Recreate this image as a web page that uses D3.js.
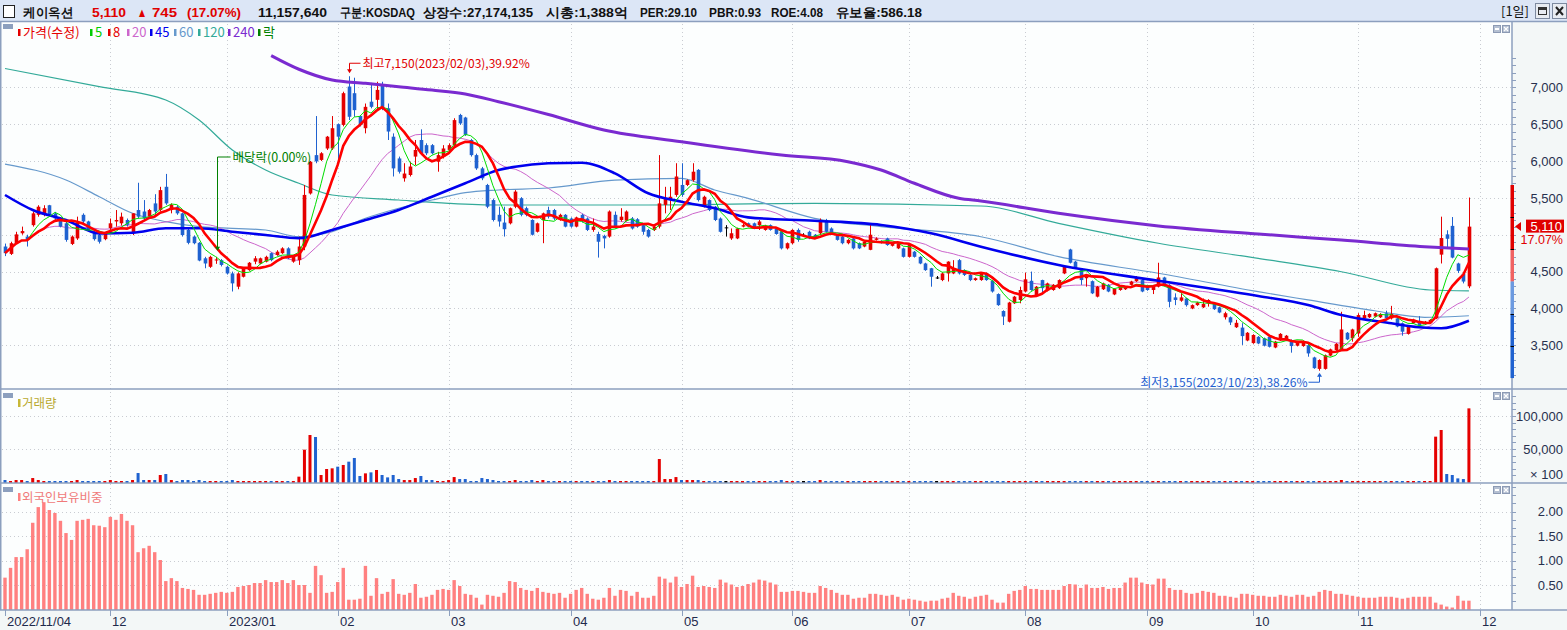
<!DOCTYPE html>
<html><head><meta charset="utf-8">
<script src="https://cdn.jsdelivr.net/npm/d3@7"></script>
<style>
html,body{margin:0;padding:0;background:#fff;overflow:hidden;}
svg{display:block;}
text{font-family:"Liberation Sans",Arial,sans-serif;}
.kr{font-family:"Noto Sans CJK KR","Noto Sans",sans-serif;}
</style></head><body>
<svg id="chart" width="1567" height="630"></svg>
<script>
// ---------------- DATA ----------------
const stockName = "케이옥션";
const headerFields = ["구분:KOSDAQ","상장수:27,174,135","시총:1,388억","PER:29.10","PBR:0.93","ROE:4.08","유보율:586.18"];
const lastVolumeShares = 11157640;
const holidays = ["2022-12-30","2023-01-23","2023-01-24","2023-03-01","2023-05-01","2023-05-05","2023-05-29","2023-06-06","2023-08-15","2023-09-28","2023-09-29","2023-10-02","2023-10-03","2023-10-09"];
const startDate = "2022-11-04", axisEndDate = "2023-12-01";
const dividendIndexDate = "2022-12-28";

// [open, high, low, close] per trading day
const ohlc = [
[4840,4880,4710,4750],[4740,4905,4725,4885],[4885,5040,4875,5005],[5020,5110,5000,5050],[4975,5000,4840,4930],
[5130,5315,5110,5290],[5270,5400,5245,5380],[5270,5400,5250,5360],[5400,5405,5245,5270],[5290,5310,5180,5220],
[5200,5220,5100,5110],[5155,5180,4905,4930],[4875,4990,4860,4975],[4950,5245,4930,5165],[5270,5290,5155,5180],
[5180,5190,5050,5065],[5040,5060,4920,4940],[5000,5010,4880,4905],[4940,5030,4925,5020],[5090,5220,5065,5155],
[5180,5335,5110,5200],[5155,5300,5125,5245],[5200,5220,5110,5135],[5020,5290,4995,5290],[5335,5705,5220,5245],
[5315,5470,5200,5220],[5245,5350,5230,5335],[5425,5550,5245,5315],[5335,5650,5315,5605],[5650,5825,5405,5425],
[5335,5425,5290,5405],[5380,5400,5270,5290],[5290,5300,4975,4995],[5065,5080,4870,4890],[4975,4990,4870,4885],
[4890,4900,4640,4650],[4680,4700,4545,4610],[4565,4715,4550,4700],[4650,4700,4605,4665],[4655,4670,4570,4590],
[4565,4580,4460,4475],[4475,4500,4230,4340],[4295,4490,4260,4475],[4430,4560,4420,4545],[4520,4630,4510,4620],
[4635,4710,4600,4680],[4610,4690,4600,4680],[4635,4715,4625,4700],[4750,4760,4640,4655],[4725,4790,4715,4770],
[4750,4830,4740,4815],[4815,4830,4670,4680],[4635,4710,4620,4700],[4655,4975,4590,4840],[4840,5675,4790,5540],
[5560,6000,5545,5990],[6080,6610,5970,5995],[6015,6120,6000,6105],[6170,6340,6150,6330],[6170,6610,6150,6445],
[6500,6510,5990,6330],[6490,6940,6470,6920],[7010,7150,6555,6600],[6920,7130,6600,6690],[6610,6620,6470,6490],
[6445,6780,6375,6735],[6805,7060,6715,6735],[6830,7075,6690,6965],[7030,7075,6690,6715],[6715,6780,6285,6400],
[6330,6375,5790,5900],[6035,6060,5830,5855],[5765,5970,5720,5830],[5810,5990,5790,5925],[6060,6285,5945,6150],
[6285,6430,6080,6105],[6215,6240,6080,6105],[6215,6230,6090,6105],[5990,6125,5855,6080],[6060,6215,6035,6170],
[6150,6240,6125,6215],[6215,6580,6200,6555],[6625,6640,6490,6510],[6590,6600,6340,6355],[6285,6300,6060,6080],
[6080,6100,5880,5900],[5900,5920,5740,5765],[5675,5690,5360,5380],[5470,5490,5180,5200],[5270,5380,5110,5180],
[5165,5380,4975,5075],[5155,5370,5140,5360],[5380,5605,5360,5585],[5495,5510,5250,5270],[5360,5380,5250,5270],
[5200,5210,4990,5000],[5040,5165,5030,5155],[5200,5300,4885,5290],[5335,5380,5220,5245],[5335,5350,5200,5220],
[5200,5285,5190,5270],[5270,5280,5100,5110],[5220,5235,5095,5110],[5110,5245,5100,5235],[5270,5285,5165,5180],
[5220,5235,5050,5065],[5065,5220,5040,5110],[5010,5040,4690,4905],[4985,5000,4815,4950],[4975,5330,4960,5315],
[5270,5315,5085,5110],[5200,5360,5180,5245],[5190,5330,5180,5315],[5220,5240,5070,5085],[5210,5225,5095,5110],
[5130,5155,5000,5040],[5065,5080,4960,4975],[5065,5120,5050,5110],[5110,6080,5085,5425],[5405,5650,5290,5495],
[5470,5650,5335,5515],[5540,5970,5515,5790],[5675,5970,5515,5540],[5675,5750,5660,5740],[5740,5970,5720,5855],
[5880,5890,5450,5470],[5380,5530,5370,5515],[5470,5480,5320,5335],[5380,5390,5185,5200],[5220,5235,5030,5040],
[5100,5130,4975,5100],[4950,5085,4930,5020],[4950,5095,4940,5085],[5110,5150,5100,5130],[5155,5165,5100,5110],
[5155,5165,5075,5085],[5130,5200,5065,5180],[5065,5135,5055,5125],[5130,5140,5055,5065],[5085,5095,5000,5010],
[5040,5050,4800,4815],[4815,4895,4800,4885],[4885,5075,4870,5065],[5065,5085,4905,4930],[5000,5020,4985,5000],
[5040,5055,4940,4950],[5000,5010,4940,4950],[5020,5220,5000,5180],[5200,5215,5030,5040],[5085,5100,5010,5020],
[5000,5010,4920,4930],[4975,4990,4870,4885],[4885,4940,4870,4930],[4950,4960,4800,4815],[4885,4895,4805,4815],
[4840,4915,4830,4905],[4795,5140,4790,5000],[4930,4965,4920,4950],[4915,4925,4880,4890],[4950,4960,4850,4860],
[4850,4895,4840,4885],[4815,4895,4805,4885],[4815,4825,4690,4700],[4700,4870,4690,4860],[4770,4780,4690,4700],
[4700,4710,4600,4610],[4610,4620,4510,4520],[4545,4550,4295,4430],[4420,4440,4400,4420],[4385,4490,4370,4475],
[4475,4640,4365,4635],[4475,4655,4465,4545],[4655,4670,4460,4475],[4520,4530,4440,4455],[4455,4465,4370,4385],
[4385,4420,4375,4410],[4385,4495,4375,4485],[4475,4485,4375,4385],[4375,4385,4215,4230],[4195,4205,4035,4045],
[3965,3975,3775,3890],[3820,4090,3810,4080],[4070,4170,4060,4160],[4115,4295,4070,4250],[4230,4485,4220,4395],
[4375,4500,4240,4250],[4180,4305,4170,4295],[4385,4390,4205,4275],[4240,4350,4230,4340],[4250,4330,4240,4320],
[4275,4395,4265,4385],[4475,4575,4465,4565],[4800,4810,4610,4620],[4635,4645,4545,4555],[4520,4530,4320,4385],
[4410,4450,4295,4440],[4370,4380,4195,4205],[4160,4305,4150,4295],[4260,4350,4250,4340],[4320,4330,4220,4230],
[4190,4275,4180,4265],[4250,4315,4240,4305],[4260,4305,4250,4295],[4320,4375,4310,4365],[4370,4440,4360,4410],
[4385,4395,4220,4230],[4305,4315,4240,4250],[4250,4305,4195,4295],[4295,4620,4285,4420],[4420,4430,4310,4320],
[4320,4330,4015,4090],[4150,4205,4045,4115],[4105,4205,4090,4150],[4135,4145,4025,4045],[4000,4055,3990,4045],
[4045,4090,4035,4080],[4015,4135,4005,4060],[4070,4125,4025,4115],[4070,4080,3980,3990],[4015,4025,3935,3945],
[3880,3955,3850,3935],[3880,3890,3775,3810],[3745,3845,3735,3805],[3740,3800,3505,3625],[3565,3680,3555,3670],
[3530,3650,3520,3640],[3615,3625,3515,3525],[3595,3605,3485,3495],[3615,3625,3470,3480],[3470,3560,3460,3550],
[3570,3665,3560,3655],[3570,3640,3560,3630],[3570,3580,3400,3490],[3495,3560,3485,3550],[3490,3545,3480,3535],
[3500,3510,3345,3390],[3335,3345,3180,3190],[3180,3310,3155,3300],[3180,3375,3170,3365],[3360,3455,3350,3445],
[3435,3530,3425,3520],[3435,3955,3425,3715],[3670,3680,3570,3580],[3595,3725,3550,3715],[3660,3935,3615,3910],
[3865,3970,3850,3910],[3880,3935,3870,3925],[3890,3945,3880,3935],[3880,3935,3870,3925],[3935,3970,3850,3865],
[3865,4035,3850,3925],[3865,3875,3745,3755],[3800,3810,3630,3685],[3655,3770,3645,3760],[3800,3860,3790,3850],
[3820,3895,3755,3775],[3790,3830,3780,3820],[3800,3855,3790,3845],[3865,4555,3855,4545],[4730,5245,4610,4955],
[5005,5060,4830,4945],[5120,5240,4680,4690],[4610,4620,4480,4510],[4470,4485,4340,4365],[4300,5505,4275,5110]
];

// volume (x100 shares)
const volume = [
3000,1500,3000,3000,1500,6000,3000,1500,1500,1500,
1500,1500,1500,3000,1500,1500,1500,1500,1500,3000,
1500,1500,1500,3000,13600,3000,3000,3000,10600,12100,
3000,1500,3000,3000,1500,3000,1500,1500,1500,1500,
1500,3000,1500,1500,1500,1500,1500,1500,1500,1500,
1500,1500,1500,8100,49000,71200,68200,10600,19700,20700,
23200,25800,30800,36400,9100,13100,14600,18200,10600,7000,
10600,4500,3000,3000,6000,9100,3000,3000,1500,1500,
3000,7500,4500,4500,1500,1500,6000,4500,3000,1500,
1500,1500,3000,1500,1500,3000,1500,3000,1500,1500,
1500,1500,1500,1500,1500,1500,1500,1500,1500,3000,
1500,1500,1500,1500,1500,1500,1500,1500,34800,4500,
4500,7500,3000,3000,3000,3000,1500,1500,1500,1500,
1500,1500,1500,1500,1500,1500,1500,1500,1500,1500,
3000,1500,1500,1500,1500,1500,1500,3000,1500,1500,
1500,1500,1500,1500,1500,1500,1500,1500,1500,1500,
1500,1500,1500,1500,1500,1500,1500,1500,1500,1500,
1500,1500,1500,1500,1500,1500,1500,1500,1500,1500,
1500,1500,1500,1500,1500,1500,1500,1500,1500,1500,
1500,1500,1500,1500,1500,1500,1500,1500,1500,1500,
1500,1500,1500,1500,1500,1500,1500,1500,1500,1500,
1500,1500,1500,1500,1500,1500,1500,1500,1500,1500,
1500,1500,1500,1500,1500,1500,1500,1500,1500,1500,
1500,1500,1500,1500,1500,1500,1500,1500,1500,1500,
1500,3000,1500,1500,1500,1500,1500,1500,1500,1500,
1500,1500,1500,1500,1500,1500,1500,1500,68700,78800,
12100,10600,5500,4500,111576.4
];

// foreign ownership ratio (%)
const foreignRatio = [
.65,.85,1.07,1.07,1.23,1.77,2.09,2.19,2.03,1.97,
1.81,1.56,1.42,1.81,1.83,1.85,1.72,1.71,1.68,1.89,
1.83,1.95,1.81,1.72,1.17,1.25,1.30,1.17,1.01,.58,
.64,.58,.44,.42,.40,.30,.30,.32,.34,.36,
.34,.36,.46,.48,.50,.54,.54,.60,.56,.56,
.60,.54,.60,.50,.50,.34,.89,.70,.34,.36,
.56,.85,.20,.20,.22,.89,.28,.64,.32,.36,
.62,.32,.30,.34,.52,.24,.26,.30,.40,.42,
.40,.60,.48,.32,.30,.24,.10,.30,.28,.26,
.34,.58,.56,.44,.40,.38,.44,.36,.34,.32,
.34,.24,.32,.40,.44,.32,.22,.20,.24,.44,
.28,.40,.38,.28,.36,.24,.24,.28,.67,.63,
.55,.67,.46,.52,.69,.46,.48,.46,.44,.61,
.55,.51,.46,.48,.52,.55,.61,.59,.55,.51,
.36,.36,.38,.38,.36,.34,.34,.48,.44,.40,
.34,.30,.30,.22,.24,.24,.32,.32,.30,.28,
.30,.26,.20,.22,.20,.18,.16,.18,.18,.22,
.24,.34,.28,.26,.22,.26,.28,.30,.20,.14,
.14,.32,.38,.40,.48,.42,.42,.40,.40,.40,
.40,.48,.52,.51,.44,.51,.44,.44,.46,.42,
.44,.44,.55,.65,.65,.55,.52,.51,.63,.63,
.44,.40,.40,.34,.32,.34,.38,.36,.34,.28,
.28,.26,.24,.32,.32,.30,.28,.28,.26,.26,
.30,.28,.26,.30,.30,.26,.28,.36,.40,.38,
.32,.32,.30,.28,.26,.24,.24,.24,.26,.26,
.26,.24,.22,.24,.26,.26,.26,.26,.14,.10,
.06,.04,.28,.18,.18
];

// long moving averages: [trading-day index, value]
const ma45Samples = [[0,5539],[5,5335],[11,5200],[17,5019],[23,5027],[29,5087],[35,5087],[41,5041],[47,4996],[53,4952],[59,5064],[65,5200],[71,5335],[77,5516],[83,5698],[89,5878],[92,5923],[98,5969],[104,5977],[110,5833],[116,5562],[122,5448],[128,5359],[134,5236],[146,5190],[158,5132],[167,5019],[176,4838],[190,4589],[208,4376],[226,4169],[235,4047],[241,3911],[250,3798],[255,3745],[259,3731],[264,3834]];
const ma60Samples = [[0,5959],[11,5742],[17,5516],[23,5291],[29,5177],[35,5109],[47,5064],[53,4973],[59,5041],[65,5223],[71,5359],[77,5471],[83,5570],[89,5607],[98,5634],[110,5742],[122,5765],[128,5607],[134,5494],[146,5223],[158,5109],[176,4973],[190,4702],[208,4477],[226,4227],[235,4115],[247,3969],[256,3880],[264,3901]];
const ma120Samples = [[0,7255],[17,7008],[29,6828],[35,6556],[41,6149],[47,5878],[53,5698],[59,5539],[71,5471],[80,5426],[89,5403],[116,5403],[146,5426],[176,5390],[190,5155],[208,4884],[226,4680],[241,4498],[257,4250],[264,4237]];
const ma240Samples = [[48,7430],[53,7245],[59,7099],[65,7054],[71,7008],[77,6963],[83,6909],[89,6805],[98,6630],[108,6421],[122,6262],[140,6082],[152,5991],[158,5878],[164,5698],[172,5494],[176,5458],[190,5290],[208,5120],[226,5010],[241,4928],[256,4838],[264,4806]];

const priceTicks = [3500,4000,4500,5000,5500,6000,6500,7000];
const volumeTicks = [50000,100000];
const foreignTicks = [0.5,1.0,1.5,2.0];
const legendItems = [
  {label:"가격(수정)", color:"#e50000"},{label:"5", color:"#00cc00"},{label:"8", color:"#e50000"},
  {label:"20", color:"#cc66cc"},{label:"45", color:"#0000ee"},{label:"60", color:"#6699cc"},
  {label:"120", color:"#33aa99"},{label:"240", color:"#7a2ad0"},{label:"락", color:"#008000"}];

// ---------------- HELPERS ----------------
function tradingDays(start, end){
  const out=[]; const d=new Date(start+"T00:00:00Z"); const e=new Date(end+"T00:00:00Z");
  while(d<=e){ const wd=d.getUTCDay(); const s=d.toISOString().slice(0,10);
    if(wd!==0 && wd!==6 && !holidays.includes(s)) out.push(s);
    d.setUTCDate(d.getUTCDate()+1); }
  return out;
}
const dates = tradingDays(startDate, axisEndDate);
const N = ohlc.length;
const opens = ohlc.map(r=>r[0]), highs = ohlc.map(r=>r[1]), lows = ohlc.map(r=>r[2]), closes = ohlc.map(r=>r[3]);
function sma(arr,n){ return arr.map((_,i)=>d3.mean(arr.slice(Math.max(0,i-n+1),i+1))); }
const ma5 = sma(closes,5), ma8 = sma(closes,8), ma20 = sma(closes,20);
const dirColor = i => closes[i]>opens[i] ? "#e50000" : (closes[i]<opens[i] ? "#1f62d0" : "#000000");

// ---------------- LAYOUT ----------------
const W=1567, H=630, PR=1512;
const P = {top:22, bot:389}, V = {top:389, bot:483}, F = {top:483, bot:610};
const x = d3.scaleLinear().domain([0, dates.length-1]).range([5, 1480]);
const y = d3.scaleLinear().domain([3500,7000]).range([345.3, 87.3]);
const yv = d3.scaleLinear().domain([0,100000]).range([482, 416]);
const yf = d3.scaleLinear().domain([0,2]).range([609.5, 511.5]);
const fmt = d3.format(",");

const svg = d3.select("#chart");
const defs = svg.append("defs");
[["clipP",P],["clipV",V],["clipF",F]].forEach(([id,p])=>{
  defs.append("clipPath").attr("id",id).append("rect").attr("x",1).attr("y",p.top+1).attr("width",PR-1).attr("height",p.bot-p.top-1);
});

// backgrounds
svg.append("rect").attr("width",W).attr("height",H).attr("fill","#fcfefe");
svg.append("rect").attr("x",PR).attr("y",22).attr("width",W-PR).attr("height",H-22).attr("fill","#f3f7f7");
svg.append("rect").attr("x",0).attr("y",F.bot).attr("width",W).attr("height",H-F.bot).attr("fill","#f3f7f7");

// month ticks
const monthTicks = [];
dates.forEach((s,i)=>{ if(i===0 || s.slice(0,7)!==dates[i-1].slice(0,7)) monthTicks.push({i, s}); });
const tickLabel = (t,k) => k===0 ? t.s.replace(/-/g,"/") : (t.s.slice(5,7)==="01" ? t.s.slice(0,4)+"/01" : t.s.slice(5,7));

// grid
const grid = svg.append("g").attr("stroke","#c9ccd2").attr("stroke-width",1).attr("stroke-dasharray","1,3");
monthTicks.slice(1).forEach(t=>{
  const gx = Math.round(x(t.i))+0.5;
  grid.append("line").attr("x1",gx).attr("x2",gx).attr("y1",P.top+2).attr("y2",F.bot);
});
priceTicks.forEach(v=>grid.append("line").attr("x1",2).attr("x2",PR).attr("y1",Math.round(y(v))+0.5).attr("y2",Math.round(y(v))+0.5));
volumeTicks.forEach(v=>grid.append("line").attr("x1",2).attr("x2",PR).attr("y1",Math.round(yv(v))+0.5).attr("y2",Math.round(yv(v))+0.5));
foreignTicks.forEach(v=>grid.append("line").attr("x1",2).attr("x2",PR).attr("y1",Math.round(yf(v))+0.5).attr("y2",Math.round(yf(v))+0.5));

// ---------------- PRICE PANEL ----------------
const gp = svg.append("g").attr("clip-path","url(#clipP)");
const lineS = pts => d3.line().x(d=>x(d[0])).y(d=>y(d[1])).curve(d3.curveMonotoneX)(pts);
const lineD = arr => d3.line().x((d,i)=>x(i)).y(d=>y(d))(arr);
gp.append("path").attr("d",lineS(ma120Samples)).attr("fill","none").attr("stroke","#33aa99").attr("stroke-width",1.2);
gp.append("path").attr("d",lineS(ma60Samples)).attr("fill","none").attr("stroke","#6699cc").attr("stroke-width",1.2);
gp.append("path").attr("d",lineD(ma20)).attr("fill","none").attr("stroke","#cc66cc").attr("stroke-width",1);

// candles
const gc = gp.append("g");
for(let i=0;i<N;i++){
  const cx = Math.round(x(i))+0.5, col = dirColor(i);
  gc.append("line").attr("x1",cx).attr("x2",cx).attr("y1",y(highs[i])).attr("y2",y(lows[i])).attr("stroke",col).attr("stroke-width",1);
  const top = y(Math.max(opens[i],closes[i])), bot = y(Math.min(opens[i],closes[i]));
  gc.append("rect").attr("x",cx-1.8).attr("y",top).attr("width",3.6).attr("height",Math.max(1,bot-top)).attr("fill",col);
}
gp.append("path").attr("d",lineS(ma240Samples)).attr("fill","none").attr("stroke","#7a2ad0").attr("stroke-width",3);
gp.append("path").attr("d",lineS(ma45Samples)).attr("fill","none").attr("stroke","#0000ee").attr("stroke-width",2.6);
gp.append("path").attr("d",lineD(ma5)).attr("fill","none").attr("stroke","#00dd00").attr("stroke-width",1);
gp.append("path").attr("d",lineD(ma8)).attr("fill","none").attr("stroke","#ff0000").attr("stroke-width",2.6);

// ---------------- VOLUME PANEL ----------------
const gv = svg.append("g").attr("clip-path","url(#clipV)");
volume.forEach((v,i)=>{
  const top = Math.min(yv(v), 481);
  gv.append("rect").attr("x",x(i)-1.5).attr("y",top).attr("width",3).attr("height",483-top).attr("fill",dirColor(i));
});

// ---------------- FOREIGN PANEL ----------------
const gf = svg.append("g").attr("clip-path","url(#clipF)");
foreignRatio.forEach((v,i)=>{
  gf.append("rect").attr("x",x(i)-1.7).attr("y",yf(v)).attr("width",3.4).attr("height",610-yf(v)).attr("fill","#ff8080");
});

// ---------------- FRAME ----------------
const frame = svg.append("g").attr("stroke","#8c9fbe").attr("stroke-width",1.5).attr("fill","none");
frame.append("line").attr("x1",0.75).attr("x2",0.75).attr("y1",22).attr("y2",F.bot);
frame.append("line").attr("x1",PR).attr("x2",PR).attr("y1",22).attr("y2",F.bot);
[V.top, F.top, F.bot].forEach(yy=>frame.append("line").attr("x1",0).attr("x2",W).attr("y1",yy).attr("y2",yy));

// right axis ticks & labels
const axG = svg.append("g");
for(let v=3100; v<=7400; v+=100){ const yy=Math.round(y(v))+0.5; if(yy>P.top+4 && yy<P.bot-2) axG.append("line").attr("x1",PR).attr("x2",PR+4).attr("y1",yy).attr("y2",yy).attr("stroke","#8c9fbe"); }
for(let v=0; v<=130000; v+=10000){ const yy=Math.round(yv(v))+0.5; if(yy>V.top+3 && yy<V.bot-1) axG.append("line").attr("x1",PR).attr("x2",PR+4).attr("y1",yy).attr("y2",yy).attr("stroke","#8c9fbe"); }
for(let v=1/6; v<=2.5; v+=1/6){ const yy=Math.round(yf(v))+0.5; if(yy>F.top+3 && yy<F.bot-1) axG.append("line").attr("x1",PR).attr("x2",PR+4).attr("y1",yy).attr("y2",yy).attr("stroke","#8c9fbe"); }
const lab = (txt,yy,col)=>axG.append("text").attr("x",1563).attr("y",yy).attr("dy","0.36em").attr("text-anchor","end").attr("font-size",13).attr("fill",col||"#27304e").text(txt);
priceTicks.forEach(v=>{ if(v!==5000) lab(fmt(v), y(v)); });
volumeTicks.forEach(v=>lab(fmt(v), yv(v)));
lab("× 100", 474);
foreignTicks.forEach(v=>lab(v.toFixed(2), yf(v)));

// price-limit bar on the axis
const prevClose = closes[N-2], lastClose = closes[N-1];
const limBands = [[1.3,1.1,"#e00000"],[1.1,1.0,"#f06262"],[1.0,0.9,"#6b9ae0"],[0.9,0.7,"#1f62d0"]];
limBands.forEach(([a,b,c])=>svg.append("rect").attr("x",PR-1.5).attr("y",y(prevClose*a)).attr("width",3.5).attr("height",y(prevClose*b)-y(prevClose*a)).attr("fill",c));
[1.2,1.1,0.9,0.8].forEach(k=>svg.append("rect").attr("x",PR-1.5).attr("y",Math.round(y(prevClose*k))).attr("width",3.5).attr("height",1).attr("fill","#000"));

// current price marker
const cy = y(lastClose);
svg.append("path").attr("d",`M${PR+3},${cy} L${PR+9},${cy-4.5} L${PR+9},${cy+4.5} Z`).attr("fill","#e00000");
svg.append("rect").attr("x",1526).attr("y",cy-7).attr("width",38).attr("height",13).attr("fill","#e00000");
svg.append("text").attr("x",1562).attr("y",cy).attr("dy","0.36em").attr("text-anchor","end").attr("font-size",13).attr("fill","#fff").text(fmt(lastClose));
const pct = (lastClose-prevClose)/prevClose*100;
svg.append("text").attr("x",1563).attr("y",cy+13).attr("dy","0.36em").attr("text-anchor","end").attr("font-size",12.5).attr("fill","#e00000").text(pct.toFixed(2)+"%");

// x axis
monthTicks.forEach((t,k)=>{
  const tx = Math.round(x(t.i))+0.5;
  svg.append("line").attr("x1",tx).attr("x2",tx).attr("y1",F.bot).attr("y2",F.bot+6).attr("stroke","#8c9fbe");
  svg.append("text").attr("x",tx+1.5).attr("y",626).attr("font-size",13).attr("fill","#1f2a4c").text(tickLabel(t,k));
});

// panel icons
[P.top+3, V.top+3, F.top+3].forEach(yy=>{
  [1493,1502].forEach((ix,j)=>{
    svg.append("rect").attr("x",ix+0.5).attr("y",yy+0.5).attr("width",7).attr("height",7).attr("fill","#b5c0d2").attr("stroke","#8c9ab4");
    if(j===0) svg.append("rect").attr("x",ix+2).attr("y",yy+3).attr("width",4).attr("height",2).attr("fill","#fff");
    else svg.append("path").attr("d",`M${ix+2},${yy+2} L${ix+6},${yy+6} M${ix+6},${yy+2} L${ix+2},${yy+6}`).attr("stroke","#fff").attr("stroke-width",1.2);
  });
});

// legends
svg.append("rect").attr("x",3).attr("y",24).attr("width",10).attr("height",5).attr("fill","#8c9fbe");
const legendX = [18, 90, 108, 127, 150, 174, 198, 228, 258];
legendItems.forEach((it,k)=>{
  const lx = legendX[k];
  svg.append("rect").attr("x",lx).attr("y",29).attr("width",2.5).attr("height",7).attr("fill",it.color);
  svg.append("text").attr("class","kr").attr("x",lx+5).attr("y",37).attr("font-size",13).attr("fill",it.color).text(it.label);
});
[[V.top+4,"거래량","#b9a92e","#c8b838"],[F.top+4,"외국인보유비중","#f07a7a","#ff8080"]].forEach(([yy,txt,c,mc])=>{
  svg.append("rect").attr("x",3).attr("y",yy).attr("width",10).attr("height",5).attr("fill","#8c9fbe");
  svg.append("rect").attr("x",18).attr("y",yy+6).attr("width",2.5).attr("height",8).attr("fill",mc);
  svg.append("text").attr("class","kr").attr("x",22).attr("y",yy+14.5).attr("font-size",12.5).attr("fill",c).text(txt);
});

// ---------------- ANNOTATIONS ----------------
const iMax = d3.maxIndex(highs), iMin = d3.minIndex(lows);
const dstr = s => s.replace(/-/g,"/");
const hx = Math.round(x(iMax))+0.5, hy = y(highs[iMax]);
svg.append("path").attr("d",`M${hx+11},${hy-13} H${hx} V${hy-6}`).attr("fill","none").attr("stroke","#e00000");
svg.append("path").attr("d",`M${hx-2.5},${hy-7} L${hx+2.5},${hy-7} L${hx},${hy-3} Z`).attr("fill","#e00000");
svg.append("text").attr("class","kr").attr("x",hx+13).attr("y",hy-13).attr("dy","0.38em").attr("font-size",12).attr("fill","#e00000")
  .text(`최고${fmt(highs[iMax])}(${dstr(dates[iMax])}),${((highs[iMax]-lastClose)/lastClose*100).toFixed(2)}%`);
const lxm = Math.round(x(iMin))+0.5, ly = y(lows[iMin]);
svg.append("path").attr("d",`M${lxm-11},${ly+11.5} H${lxm} V${ly+5}`).attr("fill","none").attr("stroke","#1f5fd0");
svg.append("path").attr("d",`M${lxm-2.5},${ly+6} L${lxm+2.5},${ly+6} L${lxm},${ly+2} Z`).attr("fill","#1f5fd0");
svg.append("text").attr("class","kr").attr("x",lxm-12).attr("y",ly+11.5).attr("dy","0.38em").attr("text-anchor","end").attr("font-size",12).attr("fill","#1f5fd0")
  .text(`최저${fmt(lows[iMin])}(${dstr(dates[iMin])}),${((lastClose-lows[iMin])/lastClose*100).toFixed(2)}%`);
const iDiv = dates.indexOf(dividendIndexDate);
const dx = Math.round(x(iDiv))+1.5, dyTop = 157, dyTip = y(highs[iDiv])-6;
svg.append("path").attr("d",`M${dx+13},${dyTop} H${dx} V${dyTip-3}`).attr("fill","none").attr("stroke","#008000");
svg.append("path").attr("d",`M${dx-2.5},${dyTip-4} L${dx+2.5},${dyTip-4} L${dx},${dyTip} Z`).attr("fill","#008000");
svg.append("text").attr("class","kr").attr("x",dx+15).attr("y",dyTop).attr("dy","0.38em").attr("font-size",12.5).attr("fill","#008000").text("배당락(0.00%)");

// ---------------- HEADER ----------------
svg.append("rect").attr("x",0).attr("y",0).attr("width",W).attr("height",21).attr("fill","#dce6f6");
svg.append("line").attr("x1",0).attr("x2",W).attr("y1",21.5).attr("y2",21.5).attr("stroke","#8c9fbe").attr("stroke-width",1.5);
svg.append("rect").attr("x",3.5).attr("y",5.5).attr("width",11).attr("height",12).attr("fill","#fff").attr("stroke","#222");
const hdr = svg.append("g").attr("class","kr").attr("font-size",13).attr("font-weight","bold");
const change = lastClose - prevClose;
// [x, fitted width, text, colour]
const hItems = [
  [23,50,stockName,"#111"], [92,34,fmt(lastClose),"#e00000"], [137,10,"▲","#e00000"], [152,25,fmt(change),"#e00000"],
  [187,54,`(${pct.toFixed(2)}%)`,"#e00000"], [258,69,fmt(lastVolumeShares),"#111"]];
const fieldPos = [[340,75],[423,110],[546,82],[640,57],[709,52],[771,52],[836,86]];
headerFields.forEach((f,k)=>hItems.push([fieldPos[k][0], fieldPos[k][1], f, "#111"]));
hItems.forEach(([hx2,w,t,c])=>hdr.append("text").attr("x",hx2).attr("y",16.5).attr("fill",c)
  .attr("textLength",w).attr("lengthAdjust","spacingAndGlyphs").text(t));
svg.append("text").attr("class","kr").attr("x",1501).attr("y",16).attr("font-size",13).attr("fill","#111")
  .attr("textLength",28).attr("lengthAdjust","spacingAndGlyphs").text("[1일]");
[1535,1552].forEach((bx,j)=>{
  svg.append("rect").attr("x",bx+0.5).attr("y",3.5).attr("width",14).attr("height",15).attr("fill","#e8ecf2").attr("stroke","#7d8aa0");
  if(j===0){ svg.append("rect").attr("x",bx+3.5).attr("y",7.5).attr("width",8).attr("height",7).attr("fill","none").attr("stroke","#333").attr("stroke-width",1);
             svg.append("rect").attr("x",bx+3.5).attr("y",7.5).attr("width",8).attr("height",2.5).attr("fill","#333"); }
  else svg.append("path").attr("d",`M${bx+4},${7} L${bx+11},${15} M${bx+11},${7} L${bx+4},${15}`).attr("stroke","#222").attr("stroke-width",2);
});
</script>
</body></html>
